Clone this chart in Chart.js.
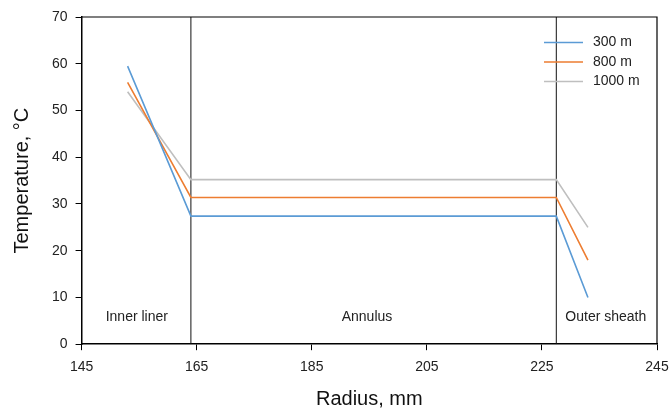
<!DOCTYPE html>
<html>
<head>
<meta charset="utf-8">
<script src="https://cdn.jsdelivr.net/npm/chart.js@4/dist/chart.umd.min.js"></script>
<style>
  html, body { margin: 0; padding: 0; background: #fff; }
  #wrap { width: 670px; height: 412px; }
</style>
</head>
<body>
<div id="wrap"><canvas id="graphi" width="670" height="412"></canvas></div>
<script>
// radios (mm) de cada perfil
const radius = [153, 164, 227.5, 233];
const temp300 = [59.5, 27.4, 27.4, 10];
const temp800 = [56, 31.4, 31.4, 18];
const temp1000 = [54, 35.2, 35.2, 25];
const seriesNames = ["300 m", "800 m", "1000 m"];
const seriesColors = ["#5B9BD5", "#ED7D31", "#BFBFBF"];

// limites de las capas
const borders = [164, 227.5];
const layers = ["Inner liner", "Annulus", "Outer sheath"];
const layerCenters = [154.6, 194.6, 236.1];

const toPoints = (vals)=> radius.map((r, i)=> ({x: r, y: vals[i]}));

const datasets = [temp300, temp800, temp1000].map((vals, i)=> ({
    label: seriesNames[i],
    data: toPoints(vals),
    borderColor: seriesColors[i],
    backgroundColor: seriesColors[i],
    borderWidth: 1.6,
    pointRadius: 0,
    tension: 0
}));

borders.forEach(b=>{
    datasets.push({
        label: "",
        data: [{x: b, y: 0}, {x: b, y: 70}],
        borderColor: "#111",
        borderWidth: 1,
        pointRadius: 0
    });
});

const fontFam = "'Liberation Sans', Arial, sans-serif";

// marco, etiquetas de capas y leyenda
const extras = {
    id: "extras",
    afterDraw(chart){
        const ctx = chart.ctx;
        const a = chart.chartArea;
        const xs = chart.scales.x;
        const ys = chart.scales.y;
        ctx.save();
        ctx.strokeStyle = "#000";
        ctx.lineWidth = 1.2;
        ctx.beginPath();
        ctx.moveTo(a.left, a.top);
        ctx.lineTo(a.right, a.top);
        ctx.lineTo(a.right, a.bottom);
        ctx.stroke();

        ctx.fillStyle = "#222";
        ctx.font = "14px " + fontFam;
        ctx.textAlign = "center";
        ctx.textBaseline = "middle";
        layers.forEach((t, i)=>{
            ctx.fillText(t, xs.getPixelForValue(layerCenters[i]), ys.getPixelForValue(5.7));
        });

        ctx.textAlign = "left";
        seriesNames.forEach((n, i)=>{
            const y = a.top + 25.5 + i * 19.5;
            ctx.strokeStyle = seriesColors[i];
            ctx.lineWidth = 1.6;
            ctx.beginPath();
            ctx.moveTo(a.right - 113, y);
            ctx.lineTo(a.right - 74, y);
            ctx.stroke();
            ctx.fillText(n, a.right - 64, y);
        });
        ctx.restore();
    }
};

const options = {
    responsive: false,
    animation: false,
    layout: {padding: {left: 6, right: 0, top: 17, bottom: 1}},
    plugins: {
        legend: {display: false},
        tooltip: {enabled: false}
    },
    scales: {
        x: {
            type: "linear",
            min: 145, max: 245,
            afterFit: (scale)=>{ scale.paddingRight = 13; },
            ticks: {stepSize: 20, color: "#222", font: {size: 14, family: fontFam}, padding: 9},
            grid: {drawOnChartArea: false, drawTicks: true, tickLength: 6, color: "#000"},
            border: {color: "#000", width: 1.5},
            title: {display: true, text: "Radius, mm", color: "#111", font: {size: 20, family: fontFam}, padding: {top: 2, bottom: 0}}
        },
        y: {
            min: 0, max: 70,
            ticks: {stepSize: 10, color: "#222", font: {size: 14, family: fontFam}, padding: 8},
            grid: {drawOnChartArea: false, drawTicks: true, tickLength: 6, color: "#000"},
            border: {color: "#000", width: 1.5},
            title: {display: true, text: "Temperature, °C", color: "#111", font: {size: 20, family: fontFam}, padding: {bottom: 10}}
        }
    }
};

new Chart("graphi", {type: "line", data: {datasets}, options, plugins: [extras]});
</script>
</body>
</html>
